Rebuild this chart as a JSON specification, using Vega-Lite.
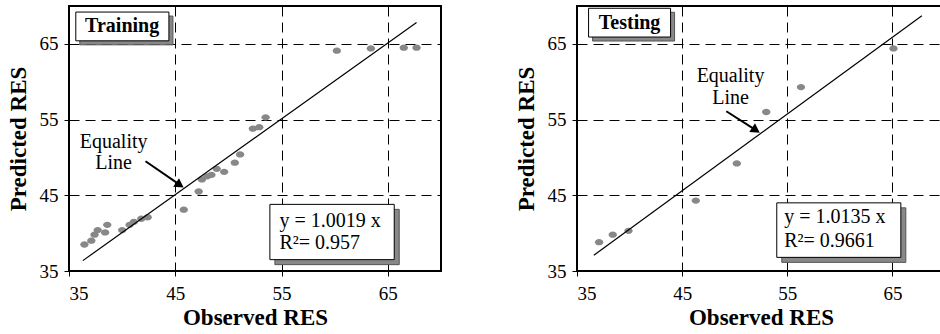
{
  "$schema": "https://vega.github.io/schema/vega-lite/v6.json",
  "padding": {"left": 6, "top": 5, "right": 0, "bottom": 0},
  "background": "white",
  "spacing": 136,
  "bounds": "flush",
  "config": {
    "font": "Times New Roman, Liberation Serif, serif",
    "view": {"stroke": "black", "strokeWidth": 2},
    "text": {"font": "Times New Roman, Liberation Serif, serif"},
    "axis": {
      "domain": false,
      "grid": true,
      "gridColor": "black",
      "gridDash": [10, 6],
      "gridWidth": 1,
      "gridOpacity": 1,
      "ticks": true,
      "tickColor": "black",
      "tickSize": 5,
      "labelFont": "Times New Roman, Liberation Serif, serif",
      "labelFontSize": 19,
      "labelColor": "black",
      "titleFont": "Times New Roman, Liberation Serif, serif",
      "titleFontSize": 23,
      "titleFontWeight": "bold",
      "titleColor": "black"
    },
    "axisX": {"labelPadding": 8, "titlePadding": 3},
    "axisY": {"labelPadding": 6, "titlePadding": 9}
  },
  "datasets": {
    "trainPts": [
      {"obs": 36.45, "pred": 38.5}, {"obs": 37.1, "pred": 39.0}, {"obs": 37.4, "pred": 39.8},
      {"obs": 37.7, "pred": 40.4}, {"obs": 38.4, "pred": 40.1}, {"obs": 38.6, "pred": 41.1},
      {"obs": 40.0, "pred": 40.4}, {"obs": 40.7, "pred": 41.1}, {"obs": 41.1, "pred": 41.5},
      {"obs": 41.8, "pred": 41.9}, {"obs": 42.4, "pred": 42.1}, {"obs": 45.8, "pred": 43.1},
      {"obs": 47.2, "pred": 45.5}, {"obs": 47.5, "pred": 47.1}, {"obs": 48.0, "pred": 47.5},
      {"obs": 48.4, "pred": 47.7}, {"obs": 48.9, "pred": 48.5}, {"obs": 49.6, "pred": 48.1},
      {"obs": 50.6, "pred": 49.3}, {"obs": 51.1, "pred": 50.4}, {"obs": 52.3, "pred": 53.8},
      {"obs": 52.9, "pred": 54.0}, {"obs": 53.5, "pred": 55.3}, {"obs": 60.2, "pred": 64.1},
      {"obs": 63.4, "pred": 64.4}, {"obs": 66.5, "pred": 64.5}, {"obs": 67.7, "pred": 64.5}
    ],
    "testPts": [
      {"obs": 37.1, "pred": 38.8}, {"obs": 38.4, "pred": 39.8}, {"obs": 39.9, "pred": 40.3},
      {"obs": 46.3, "pred": 44.3}, {"obs": 50.2, "pred": 49.2}, {"obs": 53.0, "pred": 56.0},
      {"obs": 56.3, "pred": 59.3}, {"obs": 65.1, "pred": 64.4}
    ],
    "trainLine": [{"obs": 36.3, "pred": 36.37}, {"obs": 67.7, "pred": 67.83}],
    "testLine": [{"obs": 36.6, "pred": 37.09}, {"obs": 67.8, "pred": 68.72}],
    "trainTitleBox": [{"x1": 35.64, "x2": 44.4, "y1": 69.2, "y2": 65.4}],
    "trainEqBox": [{"x1": 53.9, "x2": 65.6, "y1": 43.8, "y2": 36.5}],
    "testTitleBox": [{"x1": 36.1, "x2": 43.9, "y1": 69.7, "y2": 65.9}],
    "testEqBox": [{"x1": 54.0, "x2": 65.8, "y1": 44.0, "y2": 36.8}],
    "trainTitle": [{"x": 40.0, "y": 67.3, "text": "Training"}],
    "testTitle": [{"x": 40.0, "y": 67.8, "text": "Testing"}],
    "trainEq": [{"x": 54.8, "y": 41.6, "text": "y = 1.0019 x"}, {"x": 54.8, "y": 38.7, "text": "R²= 0.957"}],
    "testEq": [{"x": 54.7, "y": 42.1, "text": "y = 1.0135 x"}, {"x": 54.7, "y": 38.9, "text": "R²= 0.9661"}],
    "trainLabel": [{"x": 39.2, "y": 52.0, "text": "Equality"}, {"x": 39.2, "y": 49.2, "text": "Line"}],
    "testLabel": [{"x": 49.6, "y": 60.7, "text": "Equality"}, {"x": 49.6, "y": 57.8, "text": "Line"}],
    "trainArrow": [{"x1": 42.2, "y1": 49.5, "x2": 45.3, "y2": 46.5}],
    "testArrow": [{"x1": 49.2, "y1": 56.1, "x2": 51.9, "y2": 53.7}],
    "trainHead": [{"x": 45.43, "y": 46.35}],
    "testHead": [{"x": 52.02, "y": 53.6}]
  },
  "hconcat": [
    {
      "width": 372,
      "height": 265,
      "layer": [
        {
          "data": {"name": "trainPts"},
          "mark": {"type": "point", "filled": true, "color": "#888888", "opacity": 1, "size": 70, "shape": "M -1 0 A 1 0.75 0 1 0 1 0 A 1 0.75 0 1 0 -1 0 Z"},
          "encoding": {
            "x": {"field": "obs", "type": "quantitative", "title": "Observed RES", "scale": {"domain": [35, 70], "nice": false, "zero": false}, "axis": {"values": [35, 45, 55, 65]}},
            "y": {"field": "pred", "type": "quantitative", "title": "Predicted RES", "scale": {"domain": [35, 70], "nice": false, "zero": false}, "axis": {"values": [35, 45, 55, 65]}}
          }
        },
        {
          "data": {"name": "trainLine"},
          "mark": {"type": "line", "color": "black", "strokeWidth": 1.2},
          "encoding": {"x": {"field": "obs", "type": "quantitative"}, "y": {"field": "pred", "type": "quantitative"}}
        },
        {
          "data": {"name": "trainArrow"},
          "mark": {"type": "rule", "color": "black", "strokeWidth": 2},
          "encoding": {"x": {"field": "x1", "type": "quantitative"}, "y": {"field": "y1", "type": "quantitative"}, "x2": {"field": "x2"}, "y2": {"field": "y2"}}
        },
        {
          "data": {"name": "trainHead"},
          "mark": {"type": "point", "shape": "triangle-right", "filled": true, "color": "black", "opacity": 1, "size": 110, "angle": 34},
          "encoding": {"x": {"field": "x", "type": "quantitative"}, "y": {"field": "y", "type": "quantitative"}}
        },
        {
          "data": {"name": "trainLabel"},
          "mark": {"type": "text", "fontSize": 20, "color": "black", "align": "center", "baseline": "middle"},
          "encoding": {"x": {"field": "x", "type": "quantitative"}, "y": {"field": "y", "type": "quantitative"}, "text": {"field": "text"}}
        },
        {
          "data": {"name": "trainTitleBox"},
          "mark": {"type": "rect", "fill": "#888888", "stroke": "#555555", "strokeWidth": 1, "xOffset": 4, "yOffset": 4, "x2Offset": 4, "y2Offset": 4},
          "encoding": {"x": {"field": "x1", "type": "quantitative"}, "x2": {"field": "x2"}, "y": {"field": "y1", "type": "quantitative"}, "y2": {"field": "y2"}}
        },
        {
          "data": {"name": "trainTitleBox"},
          "mark": {"type": "rect", "fill": "white", "stroke": "black", "strokeWidth": 1},
          "encoding": {"x": {"field": "x1", "type": "quantitative"}, "x2": {"field": "x2"}, "y": {"field": "y1", "type": "quantitative"}, "y2": {"field": "y2"}}
        },
        {
          "data": {"name": "trainTitle"},
          "mark": {"type": "text", "fontSize": 20, "fontWeight": "bold", "color": "black", "align": "center", "baseline": "middle"},
          "encoding": {"x": {"field": "x", "type": "quantitative"}, "y": {"field": "y", "type": "quantitative"}, "text": {"field": "text"}}
        },
        {
          "data": {"name": "trainEqBox"},
          "mark": {"type": "rect", "fill": "#888888", "stroke": "#555555", "strokeWidth": 1, "xOffset": 5, "yOffset": 5, "x2Offset": 5, "y2Offset": 5},
          "encoding": {"x": {"field": "x1", "type": "quantitative"}, "x2": {"field": "x2"}, "y": {"field": "y1", "type": "quantitative"}, "y2": {"field": "y2"}}
        },
        {
          "data": {"name": "trainEqBox"},
          "mark": {"type": "rect", "fill": "white", "stroke": "black", "strokeWidth": 1},
          "encoding": {"x": {"field": "x1", "type": "quantitative"}, "x2": {"field": "x2"}, "y": {"field": "y1", "type": "quantitative"}, "y2": {"field": "y2"}}
        },
        {
          "data": {"name": "trainEq"},
          "mark": {"type": "text", "fontSize": 20, "color": "black", "align": "left", "baseline": "middle"},
          "encoding": {"x": {"field": "x", "type": "quantitative"}, "y": {"field": "y", "type": "quantitative"}, "text": {"field": "text"}}
        }
      ]
    },
    {
      "width": 368,
      "height": 265,
      "layer": [
        {
          "data": {"name": "testPts"},
          "mark": {"type": "point", "filled": true, "color": "#888888", "opacity": 1, "size": 70, "shape": "M -1 0 A 1 0.75 0 1 0 1 0 A 1 0.75 0 1 0 -1 0 Z"},
          "encoding": {
            "x": {"field": "obs", "type": "quantitative", "title": "Observed RES", "scale": {"domain": [35, 70], "nice": false, "zero": false}, "axis": {"values": [35, 45, 55, 65]}},
            "y": {"field": "pred", "type": "quantitative", "title": "Predicted RES", "scale": {"domain": [35, 70], "nice": false, "zero": false}, "axis": {"values": [35, 45, 55, 65]}}
          }
        },
        {
          "data": {"name": "testLine"},
          "mark": {"type": "line", "color": "black", "strokeWidth": 1.2},
          "encoding": {"x": {"field": "obs", "type": "quantitative"}, "y": {"field": "pred", "type": "quantitative"}}
        },
        {
          "data": {"name": "testArrow"},
          "mark": {"type": "rule", "color": "black", "strokeWidth": 2},
          "encoding": {"x": {"field": "x1", "type": "quantitative"}, "y": {"field": "y1", "type": "quantitative"}, "x2": {"field": "x2"}, "y2": {"field": "y2"}}
        },
        {
          "data": {"name": "testHead"},
          "mark": {"type": "point", "shape": "triangle-right", "filled": true, "color": "black", "opacity": 1, "size": 110, "angle": 33},
          "encoding": {"x": {"field": "x", "type": "quantitative"}, "y": {"field": "y", "type": "quantitative"}}
        },
        {
          "data": {"name": "testLabel"},
          "mark": {"type": "text", "fontSize": 20, "color": "black", "align": "center", "baseline": "middle"},
          "encoding": {"x": {"field": "x", "type": "quantitative"}, "y": {"field": "y", "type": "quantitative"}, "text": {"field": "text"}}
        },
        {
          "data": {"name": "testTitleBox"},
          "mark": {"type": "rect", "fill": "#888888", "stroke": "#555555", "strokeWidth": 1, "xOffset": 4, "yOffset": 4, "x2Offset": 4, "y2Offset": 4},
          "encoding": {"x": {"field": "x1", "type": "quantitative"}, "x2": {"field": "x2"}, "y": {"field": "y1", "type": "quantitative"}, "y2": {"field": "y2"}}
        },
        {
          "data": {"name": "testTitleBox"},
          "mark": {"type": "rect", "fill": "white", "stroke": "black", "strokeWidth": 1},
          "encoding": {"x": {"field": "x1", "type": "quantitative"}, "x2": {"field": "x2"}, "y": {"field": "y1", "type": "quantitative"}, "y2": {"field": "y2"}}
        },
        {
          "data": {"name": "testTitle"},
          "mark": {"type": "text", "fontSize": 20, "fontWeight": "bold", "color": "black", "align": "center", "baseline": "middle"},
          "encoding": {"x": {"field": "x", "type": "quantitative"}, "y": {"field": "y", "type": "quantitative"}, "text": {"field": "text"}}
        },
        {
          "data": {"name": "testEqBox"},
          "mark": {"type": "rect", "fill": "#888888", "stroke": "#555555", "strokeWidth": 1, "xOffset": 5, "yOffset": 5, "x2Offset": 5, "y2Offset": 5},
          "encoding": {"x": {"field": "x1", "type": "quantitative"}, "x2": {"field": "x2"}, "y": {"field": "y1", "type": "quantitative"}, "y2": {"field": "y2"}}
        },
        {
          "data": {"name": "testEqBox"},
          "mark": {"type": "rect", "fill": "white", "stroke": "black", "strokeWidth": 1},
          "encoding": {"x": {"field": "x1", "type": "quantitative"}, "x2": {"field": "x2"}, "y": {"field": "y1", "type": "quantitative"}, "y2": {"field": "y2"}}
        },
        {
          "data": {"name": "testEq"},
          "mark": {"type": "text", "fontSize": 20, "color": "black", "align": "left", "baseline": "middle"},
          "encoding": {"x": {"field": "x", "type": "quantitative"}, "y": {"field": "y", "type": "quantitative"}, "text": {"field": "text"}}
        }
      ]
    }
  ]
}
